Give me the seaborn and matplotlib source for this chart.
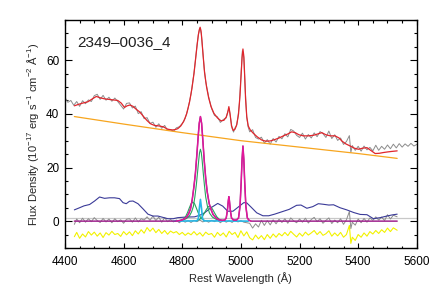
import numpy as np
import seaborn as sns
import matplotlib
matplotlib.use("Agg")
import matplotlib.pyplot as plt
from matplotlib.ticker import MultipleLocator

# observed spectrum (grey)
data_wave = [4400, 4410, 4420, 4430, 4440, 4450, 4460, 4470, 4480, 4490, 4500, 4510, 4520, 4530, 4540,
             4550, 4560, 4570, 4580, 4590, 4600, 4610, 4620, 4630, 4640, 4650, 4660, 4670, 4680, 4690,
             4700, 4710, 4720, 4730, 4740, 4750, 4760, 4770, 4780, 4790, 4800, 4810, 4820, 4830, 4840,
             4845, 4850, 4855, 4860, 4865, 4870, 4875, 4880, 4890, 4900, 4910, 4920, 4930, 4940, 4950,
             4955, 4960, 4965, 4970, 4975, 4980, 4985, 4990, 4995, 5000, 5005, 5010, 5015, 5020, 5025,
             5030, 5040, 5050, 5060, 5070, 5080, 5090, 5100, 5110, 5120, 5130, 5140, 5150, 5160, 5170,
             5180, 5190, 5200, 5210, 5220, 5230, 5240, 5250, 5260, 5270, 5280, 5290, 5300, 5310, 5320,
             5330, 5340, 5350, 5360, 5370, 5375, 5380, 5390, 5400, 5410, 5420, 5430, 5440, 5450, 5460,
             5470, 5480, 5490, 5500, 5510, 5520, 5530, 5540, 5550, 5560, 5570, 5580, 5590, 5600]
data_flux = [46.1, 44.3, 45.0, 43.2, 44.6, 42.8, 44.9, 43.8, 45.2, 44.6, 46.8, 47.3, 45.4, 46.9, 45.1,
             46.2, 44.7, 45.9, 44.6, 43.2, 41.8, 43.9, 44.1, 42.2, 42.9, 40.1, 40.8, 38.2, 38.6, 36.4,
             36.9, 35.0, 36.3, 34.6, 35.7, 33.8, 34.2, 33.5, 34.8, 35.2, 36.4, 38.3, 42.1, 47.4, 55.2,
             60.0, 65.2, 69.6, 72.0, 70.0, 63.5, 56.8, 52.0, 46.4, 42.0, 39.4, 38.9, 36.8, 37.9, 38.5,
             40.8, 42.0, 38.4, 34.6, 33.2, 34.8, 35.6, 38.8, 44.0, 53.5, 63.5, 61.0, 48.5, 38.6, 35.0,
             33.3, 34.1, 31.2, 30.6, 31.3, 29.1, 30.4, 28.7, 30.8, 29.5, 31.6, 30.7, 32.6, 31.4, 34.2,
             33.6, 32.0, 31.2, 32.8, 30.6, 32.3, 31.0, 32.9, 31.5, 33.4, 32.6, 31.2, 33.6, 30.8, 32.2,
             30.1, 31.0, 28.6, 29.7, 31.9, 25.6, 28.2, 26.4, 27.9, 26.1, 28.0, 26.6, 27.5, 26.2, 28.3,
             26.4, 27.9, 26.8, 28.4, 27.0, 28.7, 27.3, 28.9, 27.6, 28.8, 27.9, 29.0, 28.0, 28.6]

# total model (red)
model_wave = [4432, 4445, 4460, 4478, 4492, 4507, 4520, 4535, 4550, 4565, 4580, 4592, 4603, 4612, 4622,
              4632, 4642, 4655, 4668, 4680, 4692, 4705, 4720, 4735, 4750, 4765, 4775, 4785, 4795, 4805,
              4815, 4825, 4833, 4840, 4846, 4851, 4855, 4858, 4861, 4864, 4867, 4871, 4876, 4883, 4890,
              4898, 4908, 4920, 4932, 4942, 4950, 4955, 4959, 4963, 4968, 4974, 4980, 4986, 4992, 4997,
              5001, 5004, 5007, 5010, 5013, 5016, 5020, 5025, 5032, 5042, 5055, 5070, 5085, 5100, 5115,
              5130, 5145, 5160, 5173, 5185, 5198, 5213, 5230, 5247, 5262, 5276, 5290, 5305, 5321, 5335,
              5344, 5358, 5373, 5387, 5401, 5415, 5430, 5444, 5458, 5472, 5487, 5500, 5515, 5533]
model_flux = [43.0, 43.5, 44.0, 44.5, 45.5, 46.5, 46.0, 45.6, 45.4, 45.2, 45.0, 44.0, 42.4, 43.0, 43.3,
              42.8, 41.8, 40.7, 39.0, 37.5, 36.3, 35.7, 35.5, 35.2, 34.3, 34.0, 34.1, 34.5, 35.5, 37.2,
              40.0, 44.5, 49.5, 55.0, 61.0, 66.0, 69.5, 71.3, 72.3, 71.0, 67.5, 62.0, 55.5, 50.0, 46.0,
              42.8, 40.2, 38.5, 37.4, 37.6, 38.8, 40.5, 42.7, 40.0, 35.5, 33.8, 34.3, 36.0, 40.0, 47.0,
              55.0, 61.0, 64.2, 61.5, 54.0, 45.5, 39.0, 35.5, 34.0, 32.8, 31.5, 30.3, 29.8, 29.9, 30.4,
              31.0, 31.8, 32.5, 33.3, 33.0, 32.2, 31.8, 31.8, 32.0, 32.5, 33.0, 32.2, 31.8, 31.8, 31.0,
              29.9, 28.8, 28.0, 27.2, 26.8, 27.2, 27.4, 26.3, 25.2, 25.3, 25.6, 25.8, 26.0, 26.2]

# power-law continuum (orange)
cont_wave = [4432, 4600, 4800, 5000, 5200, 5400, 5533]
cont_flux = [39.0, 36.2, 33.0, 30.0, 27.6, 25.2, 23.4]

# Fe II template (blue)
fe_wave = [4432, 4450, 4465, 4484, 4501, 4518, 4535, 4552, 4569, 4586, 4598, 4609, 4620, 4632, 4649,
           4666, 4683, 4700, 4717, 4734, 4751, 4769, 4785, 4810, 4842, 4860, 4876, 4898, 4921, 4938,
           4955, 4973, 4995, 5010, 5020, 5035, 5054, 5075, 5095, 5115, 5140, 5165, 5190, 5205, 5225,
           5245, 5264, 5280, 5300, 5316, 5338, 5361, 5385, 5407, 5430, 5452, 5475, 5498, 5515, 5533]
fe_flux = [4.2, 5.0, 5.7, 6.2, 7.5, 9.0, 8.5, 8.7, 8.7, 8.4, 6.9, 6.5, 7.4, 7.5, 6.5,
           4.6, 2.6, 1.9, 1.9, 1.4, 0.9, 0.9, 1.3, 1.5, 1.6, 2.2, 3.1, 5.0, 6.6, 5.6,
           3.7, 3.7, 5.6, 6.9, 6.8, 5.2, 3.1, 2.0, 2.0, 2.6, 3.5, 4.4, 5.9, 6.0, 4.8,
           5.4, 6.5, 6.3, 6.0, 6.1, 5.0, 4.2, 3.2, 2.5, 2.4, 0.9, 1.3, 1.9, 2.3, 2.6]

# emission-line model: H-beta + [OIII] (magenta)
line_wave = [4432, 4780, 4795, 4805, 4815, 4822, 4828, 4834, 4840, 4845, 4850, 4855, 4858, 4862, 4866,
             4870, 4875, 4880, 4885, 4892, 4898, 4905, 4915, 4925, 4935, 4945, 4950, 4954, 4957, 4959,
             4961, 4964, 4968, 4975, 4985, 4992, 4997, 5001, 5004, 5007, 5010, 5013, 5017, 5022, 5028,
             5035, 5533]
line_flux = [0.0, 0.0, 0.3, 0.7, 1.5, 2.8, 4.5, 8.0, 13.0, 18.0, 25.0, 32.5, 36.5, 39.0, 36.5,
             30.5, 22.5, 16.0, 11.0, 6.5, 4.4, 2.5, 1.2, 0.5, 0.3, 0.4, 1.2, 4.0, 7.5, 9.1,
             7.5, 4.0, 1.2, 0.4, 0.4, 1.2, 5.5, 14.5, 23.0, 28.0, 23.0, 14.5, 5.5, 1.2, 0.3,
             0.0, 0.0]

# broad H-beta components (green)
broad_wave = [4790, 4805, 4815, 4825, 4832, 4838, 4843, 4848, 4852, 4856, 4859, 4862, 4865, 4868, 4872,
              4876, 4880, 4886, 4893, 4903, 4915, 4930, 4940]
broad_flux = [0.2, 0.5, 1.0, 2.0, 3.5, 5.5, 9.0, 13.5, 18.0, 22.5, 25.5, 26.8, 25.5, 22.5, 17.5,
              13.0, 9.0, 5.5, 3.0, 1.5, 0.7, 0.3, 0.2]
blue_wing_wave = [4795, 4805, 4812, 4818, 4824, 4830, 4836, 4842, 4848, 4854, 4860, 4867, 4877]
blue_wing_flux = [0.2, 0.8, 1.8, 3.2, 4.9, 6.5, 7.1, 6.5, 4.9, 3.2, 1.8, 0.8, 0.2]
red_wing_wave = [4850, 4860, 4868, 4875, 4882, 4888, 4893, 4898, 4904, 4911, 4918, 4926, 4936]
red_wing_flux = [0.2, 0.7, 1.6, 2.9, 4.3, 5.3, 5.6, 5.3, 4.3, 2.9, 1.6, 0.7, 0.2]

# narrow H-beta (cyan)
narrow_wave = [4770, 4850, 4855, 4858, 4862, 4866, 4869, 4874, 5025]
narrow_flux = [0.0, 0.1, 1.0, 4.5, 8.1, 4.5, 1.0, 0.1, 0.0]

# residuals (grey, near zero) and offset residual (yellow)
resid_wave = [4432, 4440, 4450, 4460, 4470, 4480, 4490, 4500, 4510, 4520, 4530, 4540, 4550, 4560, 4570,
              4580, 4590, 4600, 4610, 4620, 4630, 4640, 4650, 4660, 4670, 4680, 4690, 4700, 4710, 4720,
              4730, 4740, 4750, 4760, 4770, 4780, 4790, 4800, 4810, 4820, 4830, 4840, 4850, 4860, 4870,
              4880, 4890, 4900, 4910, 4920, 4930, 4940, 4950, 4960, 4970, 4980, 4990, 5000, 5010, 5020,
              5030, 5040, 5050, 5060, 5070, 5080, 5090, 5100, 5110, 5120, 5130, 5140, 5150, 5160, 5170,
              5180, 5190, 5200, 5210, 5220, 5230, 5240, 5250, 5260, 5270, 5280, 5290, 5300, 5310, 5320,
              5330, 5340, 5350, 5360, 5370, 5375, 5380, 5390, 5400, 5410, 5420, 5430, 5440, 5450, 5460,
              5470, 5480, 5490, 5500, 5510, 5520, 5533]
resid_flux = [-1.2, 0.8, -0.6, 1.1, -0.4, 0.9, -0.2, 1.3, 0.2, -0.5, 1.0, -0.3, 0.8, -0.6, 0.9,
              -0.2, 0.5, -0.8, 0.7, 0.9, -0.4, 1.2, -0.3, 0.9, 0.4, 1.6, 0.3, 1.9, 0.2, 1.5,
              -0.4, 1.3, -0.2, 0.6, -0.3, 0.4, -0.6, 0.3, -0.4, 0.2, -0.5, 0.3, -0.2, 0.4, -0.3,
              0.2, -0.4, 0.3, -0.2, 0.4, -0.6, 0.3, -0.4, 0.2, -0.5, 0.4, -0.3, 0.2, -0.4, -0.6,
              -0.8, -2.6, -1.0, -2.2, 0.3, -1.6, 0.2, -1.4, 0.5, -1.0, 0.7, -0.5, 0.9, -0.8, 1.2,
              0.1, -0.6, 0.8, -0.4, 1.1, -0.7, 0.6, 1.4, -0.2, 0.9, -0.8, 0.3, 1.2, -0.9, 0.4,
              -0.6, 0.9, -1.2, 0.5, 3.6, -2.8, -0.4, -1.5, 0.8, -0.6, 1.0, -0.4, 1.2, 0.3, 1.6,
              0.4, 1.5, 0.2, 2.4, 0.8, 2.2, 1.6]
offset_flux = [-5.8, -4.2, -6.4, -4.8, -5.9, -3.9, -5.2, -4.1, -5.6, -4.4, -6.1, -4.3, -5.2, -3.8, -5.0,
               -4.6, -5.7, -3.9, -5.1, -4.0, -5.4, -3.6, -4.8, -3.2, -4.5, -2.4, -3.8, -2.6, -4.3, -3.1,
               -4.6, -3.5, -4.9, -3.7, -4.4, -3.9, -5.0, -4.2, -5.3, -4.4, -5.1, -3.9, -5.2, -4.3, -5.6,
               -4.1, -5.0, -4.6, -6.0, -4.2, -5.4, -4.4, -5.9, -3.8, -5.0, -4.2, -6.1, -3.6, -5.5, -4.0,
               -6.2, -7.0, -5.2, -6.6, -5.4, -6.9, -5.0, -6.4, -4.8, -6.0, -4.6, -5.5, -4.2, -5.4, -3.8,
               -4.9, -5.9, -4.5, -5.6, -4.1, -5.2, -4.4, -3.5, -5.0, -3.9, -5.3, -4.7, -3.6, -5.6, -4.4,
               -5.5, -4.2, -6.0, -5.0, -1.6, -8.3, -6.0, -7.2, -5.0, -6.0, -4.4, -5.6, -3.9, -4.8, -3.5,
               -4.6, -3.2, -4.2, -2.6, -3.9, -2.5, -3.4]

ref_level = 1.2
object_name = "2349–0036_4"

sns.set_style("ticks")
plt.rcParams["font.family"] = ["Liberation Sans", "DejaVu Sans"]
plt.rcParams["mathtext.fontset"] = "custom"
plt.rcParams["mathtext.rm"] = "Liberation Sans"
plt.rcParams["mathtext.it"] = "Liberation Sans:italic"

fig = plt.figure(figsize=(4.36, 2.9), dpi=100)
ax = fig.add_axes([0.149, 0.145, 0.807, 0.786])

ax.axhline(ref_level, color="#c8c8c8", lw=0.9, zorder=1)


def draw(x, y, color, lw=0.8, z=2):
    sns.lineplot(x=x, y=y, ax=ax, color=color, lw=lw, estimator=None, sort=False, zorder=z)


draw(data_wave, data_flux, "#8c8c8c", 0.7, 2)
draw(resid_wave, resid_flux, "#8c8c8c", 0.7, 2)
draw(resid_wave, offset_flux, "#f2f200", 0.8, 2)
draw(fe_wave, fe_flux, "#3a3a98", 0.8, 3)
draw(cont_wave, cont_flux, "#f7a51e", 0.9, 3)
draw(model_wave, model_flux, "#e0262c", 0.9, 4)
draw(broad_wave, broad_flux, "#27a45e", 0.8, 4)
draw(blue_wing_wave, blue_wing_flux, "#27a45e", 0.8, 4)
draw(red_wing_wave, red_wing_flux, "#27a45e", 0.8, 4)
draw(narrow_wave, narrow_flux, "#27b6e6", 1.2, 5)
draw(line_wave, line_flux, "#a0268f", 1.1, 5)
draw(line_wave[1:-1], line_flux[1:-1], "#e4179a", 0.9, 6)

ax.set_xlim(4400, 5600)
ax.set_ylim(-10, 75)
ax.xaxis.set_major_locator(MultipleLocator(200))
ax.xaxis.set_minor_locator(MultipleLocator(50))
ax.yaxis.set_major_locator(MultipleLocator(20))
ax.yaxis.set_minor_locator(MultipleLocator(5))
ax.tick_params(which="both", direction="in", top=True, right=True, labelsize=8.5, colors="black")
ax.tick_params(axis="x", which="major", length=3.5, width=0.8, pad=6)
ax.tick_params(axis="x", which="minor", length=1.8, width=0.8)
ax.tick_params(axis="y", which="major", length=4.8, width=0.8, pad=4)
ax.tick_params(axis="y", which="minor", length=2.2, width=0.8)
for s in ax.spines.values():
    s.set_linewidth(1.0)
    s.set_color("black")

ax.set_xlabel("Rest Wavelength (Å)", fontsize=8, labelpad=3)
ax.set_ylabel("Flux Density (10$^{-17}$ erg s$^{-1}$ cm$^{-2}$ Å$^{-1}$)", fontsize=8, labelpad=4)
ax.text(0.035, 0.885, object_name, transform=ax.transAxes, fontsize=11, color="#202020")

fig.savefig("out.png", dpi=100)
